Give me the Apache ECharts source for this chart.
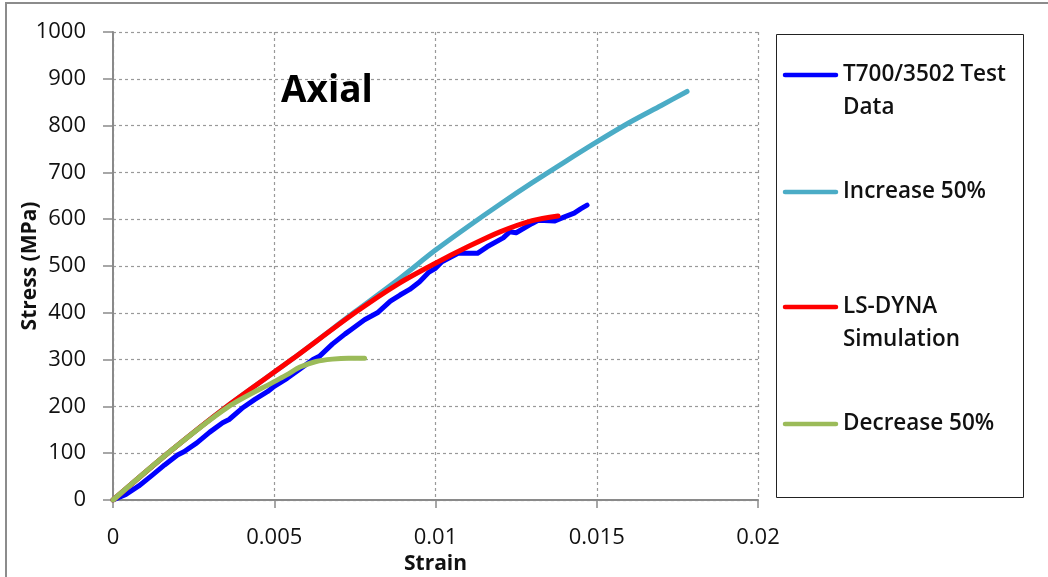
<!DOCTYPE html>
<html>
<head>
<meta charset="utf-8">
<script src="https://cdn.jsdelivr.net/npm/echarts@6/dist/echarts.min.js"></script>
<style>
  html, body { margin: 0; padding: 0; background: #fff; }
  #chart { width: 1048px; height: 577px; }
</style>
</head>
<body>
<div id="chart"></div>
<script>
// Axial stress-strain response: test data vs. LS-DYNA simulation and +/-50% variants
const xTicks = [0, 0.005, 0.01, 0.015, 0.02];
const yTicks = [0, 100, 200, 300, 400, 500, 600, 700, 800, 900, 1000];

const seriesNames = ['T700/3502 Test Data', 'Increase 50%', 'LS-DYNA Simulation', 'Decrease 50%'];
const legendLines = [['T700/3502 Test', 'Data'], ['Increase 50%'], ['LS-DYNA', 'Simulation'], ['Decrease 50%']];
const seriesColors = ['#0000ff', '#4bacc6', '#ff0000', '#9bbb59'];

// [strain, stress (MPa)]
const testData = [
  [0, 0], [0.0004, 12], [0.0008, 30], [0.0012, 52], [0.0016, 75], [0.002, 96], [0.0022, 103],
  [0.0026, 122], [0.003, 145], [0.0034, 165], [0.0036, 172], [0.004, 196], [0.0044, 215],
  [0.0048, 232], [0.005, 243], [0.0054, 260], [0.0058, 280], [0.0062, 300], [0.0064, 307],
  [0.0068, 333], [0.0072, 355], [0.0074, 365], [0.0078, 385], [0.0082, 400], [0.0086, 425],
  [0.0089, 438], [0.0092, 450], [0.0095, 466], [0.0098, 487], [0.01, 495], [0.0102, 509],
  [0.0107, 527], [0.0113, 527], [0.0116, 541], [0.0121, 560], [0.0123, 573], [0.0125, 571],
  [0.013, 591], [0.0132, 598], [0.0137, 596], [0.014, 605], [0.0143, 613], [0.0145, 622],
  [0.0147, 630]
];
const increase50 = [
  [0, 0], [0.0017, 100], [0.00353, 200], [0.00554, 300], [0.0075, 402], [0.0089, 474],
  [0.01, 534], [0.011, 584], [0.012, 632], [0.013, 678], [0.014, 722], [0.015, 765],
  [0.016, 806], [0.017, 843], [0.0178, 873]
];
const lsDyna = [
  [0, 0], [0.0017, 100], [0.00353, 200], [0.00554, 300], [0.0075, 400], [0.00887, 463],
  [0.01, 506], [0.011, 541], [0.012, 573], [0.013, 597], [0.0138, 607]
];
const decrease50 = [
  [0, 0], [0.0017, 100], [0.00355, 198], [0.005, 253], [0.0054, 268], [0.0058, 284],
  [0.0063, 296], [0.0068, 301], [0.0073, 303], [0.0078, 303]
];
const seriesData = [testData, increase50, lsDyna, decrease50];
const smoothFlags = [false, 0.3, 0.3, 0.3];

const FONT = "'Open Sans', 'Liberation Sans', sans-serif";

const chart = echarts.init(document.getElementById('chart'), null, { renderer: 'canvas' });

const gridLeft = 113, gridTop = 32, gridRight = 290, gridBottom = 77;

// legend drawn as graphic elements inside a framed box
const legendTop = [75, 192, 307, 424];
const legendGraphics = [
  { type: 'rect', shape: { x: 776.5, y: 34.5, width: 247, height: 463 },
    style: { fill: '#fff', stroke: '#222', lineWidth: 1 }, z: 10 }
];
legendLines.forEach((lines, i) => {
  legendGraphics.push({
    type: 'line', shape: { x1: 785, y1: legendTop[i], x2: 836, y2: legendTop[i] },
    style: { stroke: seriesColors[i], lineWidth: 4.5, lineCap: 'round' }, z: 11
  });
  lines.forEach((t, j) => {
    legendGraphics.push({
      type: 'text', x: 843, y: legendTop[i] + j * 33,
      style: { text: t, font: "600 22.5px " + FONT, fill: '#111', textVerticalAlign: 'middle' }, z: 11
    });
  });
});

const option = {
  animation: false,
  backgroundColor: '#fff',
  grid: { left: gridLeft, top: gridTop, right: gridRight, bottom: gridBottom,
    containLabel: false, outerBoundsMode: 'none' },
  xAxis: {
    type: 'value', min: xTicks[0], max: xTicks[xTicks.length - 1], interval: 0.005,
    name: 'Strain', nameLocation: 'middle', nameGap: 50,
    nameTextStyle: { fontFamily: FONT, fontWeight: 'bold', fontSize: 21, color: '#111' },
    axisLine: { show: true, onZero: false, lineStyle: { color: '#8a8a8a', width: 2 } },
    axisTick: { show: true, length: 8, lineStyle: { color: '#8a8a8a', width: 1.5 } },
    axisLabel: { margin: 27, fontFamily: FONT, fontSize: 22, color: '#111',
      formatter: v => String(parseFloat(v.toFixed(3))) },
    splitLine: { show: true, lineStyle: { color: '#999', type: [3, 3], width: 1.2 } }
  },
  yAxis: {
    type: 'value', min: yTicks[0], max: yTicks[yTicks.length - 1], interval: 100,
    name: 'Stress (MPa)', nameLocation: 'middle', nameGap: 72, nameMoveOverlap: false,
    nameTextStyle: { fontFamily: FONT, fontWeight: 'bold', fontSize: 21, color: '#111' },
    axisLine: { show: true, onZero: false, lineStyle: { color: '#8a8a8a', width: 2 } },
    axisTick: { show: true, length: 10, lineStyle: { color: '#8a8a8a', width: 1.5 } },
    axisLabel: { margin: 27, fontFamily: FONT, fontSize: 22, color: '#111',
      formatter: v => String(v) },
    splitLine: { show: true, lineStyle: { color: '#999', type: [3, 3], width: 1.2 } }
  },
  series: seriesNames.map((name, i) => ({
    name, type: 'line', data: seriesData[i], smooth: smoothFlags[i],
    showSymbol: false, symbol: 'none',
    lineStyle: { color: seriesColors[i], width: 5, cap: 'round', join: 'round' },
    z: 2 + i
  })),
  graphic: [
    // outer chart frame
    { type: 'rect', shape: { x: 6, y: 3, width: 1100, height: 640 },
      style: { fill: 'none', stroke: '#8c8c8c', lineWidth: 2 }, z: 0, silent: true },
    { type: 'text', x: 281, y: 91,
      style: { text: 'Axial', font: "bold 37px " + FONT, fill: '#000', textVerticalAlign: 'middle' }, z: 12 }
  ].concat(legendGraphics)
};

chart.setOption(option);
</script>
</body>
</html>
